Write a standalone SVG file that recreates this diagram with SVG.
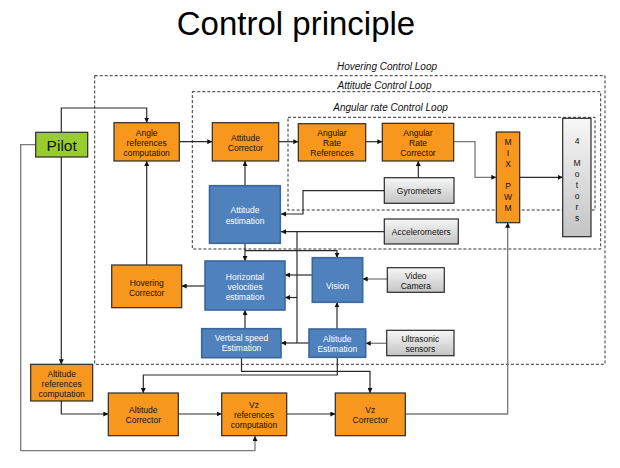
<svg xmlns="http://www.w3.org/2000/svg" width="620" height="468" viewBox="0 0 620 468">
<style>
text{font-family:"Liberation Sans",Arial,sans-serif;text-anchor:middle;}
.t{font-size:8.5px;fill:#111;}
.w{font-size:8.5px;fill:#fff;}
.lbl{font-size:10px;font-style:italic;fill:#111;}
.or{fill:#F7971E;stroke:#2a2a2a;stroke-width:1.2;}
.bl{fill:#4F81BD;stroke:#3A679C;stroke-width:1.6;}
.gr{fill:url(#gg);stroke:#2a2a2a;stroke-width:1.2;}
.dash{fill:none;stroke:#333;stroke-width:1;stroke-dasharray:3 2;}
.c{fill:none;stroke:#2a2a2a;stroke-width:1.2;}
.cg{fill:none;stroke:#7a7a7a;stroke-width:1.3;}
.a{marker-end:url(#ar);}
</style>
<defs>
<linearGradient id="gg" x1="0" y1="0" x2="0" y2="1">
<stop offset="0" stop-color="#F7F7F7"/>
<stop offset="1" stop-color="#C4C4C4"/>
</linearGradient>
<marker id="ar" viewBox="0 0 6 6" refX="6" refY="3" markerWidth="5" markerHeight="5" markerUnits="userSpaceOnUse" orient="auto">
<path d="M0,0 L6,3 L0,6 z" fill="#111"/>
</marker>
</defs>
<rect width="620" height="468" fill="#fff"/>
<text x="296" y="35" style="font-size:33px;fill:#000">Control principle</text>

<g id="loops">
<rect class="dash" x="94.7" y="75.7" width="510.3" height="288.6"/>
<rect class="dash" x="192.3" y="91.7" width="408.4" height="157.3"/>
<rect class="dash" x="288" y="117.3" width="307" height="92.7"/>
<text class="lbl" x="387" y="70">Hovering Control Loop</text>
<text class="lbl" x="384.5" y="89">Attitude Control Loop</text>
<text class="lbl" x="390.5" y="111">Angular rate Control Loop</text>
</g>

<g id="connectors">
<path class="c a" d="M61.3,132.3 V108 H146.7 V122.7"/>
<path class="c a" d="M61.3,157 V364.3"/>
<path class="cg a" d="M35.7,144.7 H20.7 V450.7 H255 V436"/>
<path class="c a" d="M179.3,141.7 H212.3"/>
<path class="c a" d="M278.7,141.7 H298.3"/>
<path class="c a" d="M365.7,141.7 H382.3"/>
<path class="cg a" d="M453.7,141.7 H475 V177.3 H496.3"/>
<path class="c a" d="M519.7,177.3 H562.7"/>
<path class="c a" d="M418.3,177.7 V161"/>
<path class="c a" d="M384.3,190.7 H303 V214 H281"/>
<path class="c a" d="M384.3,231.7 H281"/>
<path class="c" d="M297,231.7 V343"/>
<path class="c a" d="M297,297.5 H285"/>
<path class="c a" d="M245,186 V161"/>
<path class="c a" d="M245,243.3 V261"/>
<path class="c a" d="M245,250.7 H337 V257.7"/>
<path class="c a" d="M312.3,275 H285"/>
<path class="cg a" d="M387.3,279 H362.7"/>
<path class="c a" d="M205,286 H181.7"/>
<path class="c a" d="M146.7,265 V161"/>
<path class="c a" d="M245,328.7 V310"/>
<path class="c a" d="M309,343 H281"/>
<path class="c a" d="M337,329 V302.3"/>
<path class="cg a" d="M386.7,343.3 H365.7"/>
<path class="c a" d="M241.5,357.7 V371.3 H370 V393"/>
<path class="c a" d="M337.3,357.3 V375 H143.3 V393"/>
<path class="c a" d="M61.3,401 V414 H108.3"/>
<path class="c a" d="M178.3,414 H221.7"/>
<path class="c a" d="M286.7,414 H335.3"/>
<path class="cg a" d="M405.3,414 H507.7 V222.7"/>
</g>

<g id="pilot">
<rect x="35.7" y="132.3" width="52" height="24.7" fill="#99CC2E" stroke="#2a2a2a" stroke-width="1.2"/>
<text x="61.7" y="151" style="font-size:15.5px;fill:#111">Pilot</text>
</g>
<g id="angle-ref">
<rect class="or" x="114" y="122.7" width="65.3" height="38.3"/>
<text class="t" x="146.7" y="136">Angle</text>
<text class="t" x="146.7" y="146">references</text>
<text class="t" x="146.7" y="156">computation</text>
</g>
<g id="attitude-corrector">
<rect class="or" x="212.3" y="122.7" width="66.4" height="38.3"/>
<text class="t" x="245.5" y="141">Attitude</text>
<text class="t" x="245.5" y="151">Corrector</text>
</g>
<g id="angular-rate-ref">
<rect class="or" x="298.3" y="123.7" width="67.4" height="37.3"/>
<text class="t" x="332" y="135.7">Angular</text>
<text class="t" x="332" y="145.7">Rate</text>
<text class="t" x="332" y="155.7">References</text>
</g>
<g id="angular-rate-corrector">
<rect class="or" x="382.3" y="123.3" width="71.4" height="37.7"/>
<text class="t" x="418" y="135.7">Angular</text>
<text class="t" x="418" y="145.7">Rate</text>
<text class="t" x="418" y="155.7">Corrector</text>
</g>
<g id="mix-pwm">
<rect class="or" x="496.3" y="132" width="23.4" height="90.7"/>
<text class="t" x="508" y="145">M</text>
<text class="t" x="508" y="156">I</text>
<text class="t" x="508" y="167">X</text>
<text class="t" x="508" y="189">P</text>
<text class="t" x="508" y="200">W</text>
<text class="t" x="508" y="211">M</text>
</g>
<g id="motors">
<rect class="gr" x="562.7" y="118.3" width="28.3" height="118.4"/>
<text class="t" x="577" y="144">4</text>
<text class="t" x="577" y="166">M</text>
<text class="t" x="577" y="177">o</text>
<text class="t" x="577" y="188">t</text>
<text class="t" x="577" y="199">o</text>
<text class="t" x="577" y="210">r</text>
<text class="t" x="577" y="221">s</text>
</g>
<g id="gyrometers">
<rect class="gr" x="384.3" y="177.7" width="69.7" height="25.6"/>
<text class="t" x="419" y="194">Gyrometers</text>
</g>
<g id="accelerometers">
<rect class="gr" x="384.3" y="219" width="74" height="25"/>
<text class="t" x="421.3" y="235">Accelerometers</text>
</g>
<g id="attitude-estimation">
<rect class="bl" x="209.5" y="185.7" width="70.8" height="57.6"/>
<text class="w" x="245" y="213">Attitude</text>
<text class="w" x="245" y="224">estimation</text>
</g>
<g id="horizontal-velocities">
<rect class="bl" x="205" y="261" width="80" height="49"/>
<text class="w" x="245" y="280">Horizontal</text>
<text class="w" x="245" y="290">velocities</text>
<text class="w" x="245" y="300">estimation</text>
</g>
<g id="hovering-corrector">
<rect class="or" x="111.7" y="265" width="70" height="42.7"/>
<text class="t" x="146.7" y="285.5">Hovering</text>
<text class="t" x="146.7" y="295.5">Corrector</text>
</g>
<g id="vision">
<rect class="bl" x="312.3" y="257.7" width="50.4" height="44.6"/>
<text class="w" x="337.5" y="289">Vision</text>
</g>
<g id="video-camera">
<rect class="gr" x="387.3" y="267.7" width="57" height="24.6"/>
<text class="t" x="415.8" y="279">Video</text>
<text class="t" x="415.8" y="289">Camera</text>
</g>
<g id="vertical-speed">
<rect class="bl" x="201.7" y="328.7" width="79.3" height="29"/>
<text class="w" x="241.5" y="341">Vertical speed</text>
<text class="w" x="241.5" y="351">Estimation</text>
</g>
<g id="altitude-estimation">
<rect class="bl" x="309" y="329" width="56.7" height="28.3"/>
<text class="w" x="337.3" y="341.5">Altitude</text>
<text class="w" x="337.3" y="351.5">Estimation</text>
</g>
<g id="ultrasonic">
<rect class="gr" x="386.7" y="330.3" width="67.3" height="25.4"/>
<text class="t" x="420.3" y="342">Ultrasonic</text>
<text class="t" x="420.3" y="352">sensors</text>
</g>
<g id="altitude-ref">
<rect class="or" x="30.7" y="364.3" width="62" height="36.7"/>
<text class="t" x="61.7" y="376.5">Altitude</text>
<text class="t" x="61.7" y="386.5">references</text>
<text class="t" x="61.7" y="396.5">computation</text>
</g>
<g id="altitude-corrector">
<rect class="or" x="108.3" y="393" width="70" height="42.7"/>
<text class="t" x="143.3" y="413">Altitude</text>
<text class="t" x="143.3" y="423">Corrector</text>
</g>
<g id="vz-ref">
<rect class="or" x="221.7" y="393" width="65" height="42.7"/>
<text class="t" x="254" y="408">Vz</text>
<text class="t" x="254" y="418">references</text>
<text class="t" x="254" y="428">computation</text>
</g>
<g id="vz-corrector">
<rect class="or" x="335.3" y="393" width="70" height="42.7"/>
<text class="t" x="370.3" y="413">Vz</text>
<text class="t" x="370.3" y="423">Corrector</text>
</g>
</svg>
